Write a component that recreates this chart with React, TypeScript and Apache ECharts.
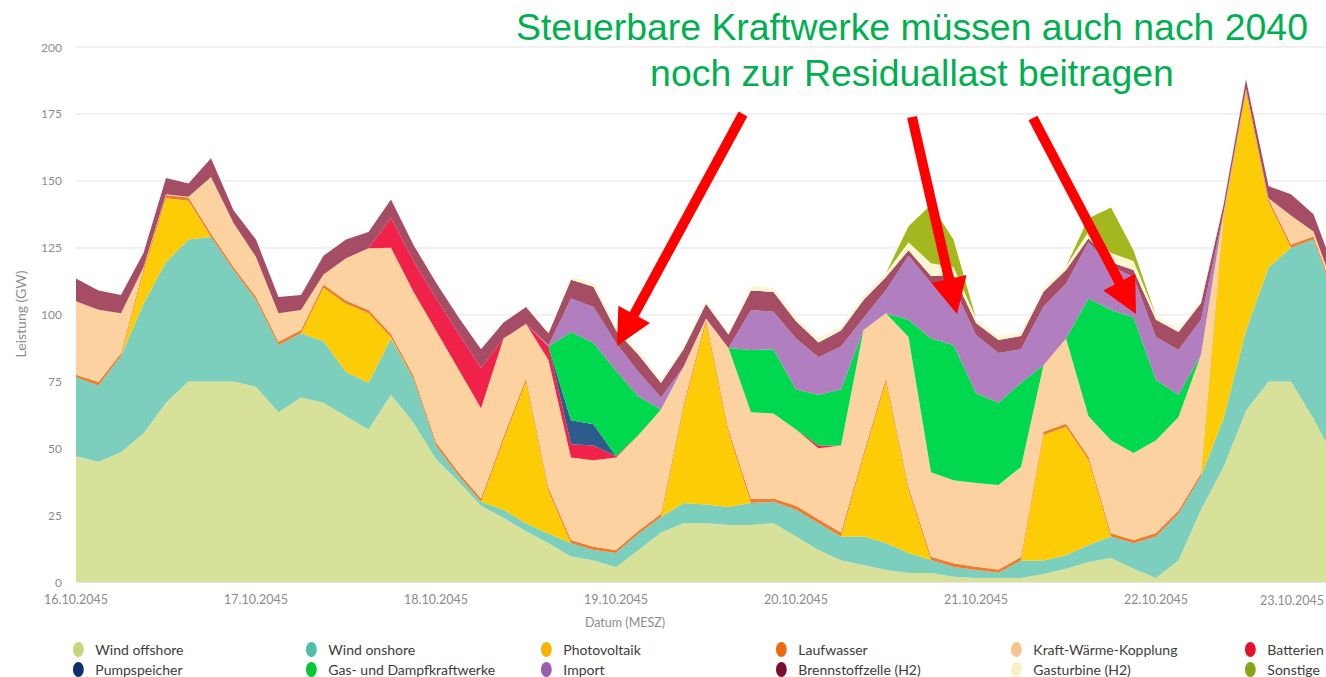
import React, { useEffect, useRef } from "react";
import * as echarts from "echarts";

const dayLabels = ["16.10.2045", "17.10.2045", "18.10.2045", "19.10.2045", "20.10.2045", "21.10.2045", "22.10.2045", "23.10.2045"];
const hourLabels = ["00:00", "03:00", "06:00", "09:00", "12:00", "15:00", "18:00", "21:00"];
const yTicks = ["0", "25", "50", "75", "100", "125", "150", "175", "200"];

// GW, every 3 hours from 16.10.2045 00:00
const windOffshore = [47, 45, 48.5, 55.5, 67, 75, 75, 75, 73, 63.5, 69, 67, 62, 57, 70, 59.5, 46, 37.5, 28.5, 24, 19, 14.5, 9.5, 8, 5.5, 12, 18.5, 22, 22, 21.3, 21.3, 22, 17, 12, 8, 6.4, 4.5, 3.4, 3.4, 2, 1.5, 1.5, 1.5, 3, 5, 7.5, 9, 5, 1.5, 8, 27, 43, 64, 75, 75, 61, 45];
const windOnshore = [29.5, 28.5, 36, 48.5, 52.6, 53, 54, 41.6, 32.4, 25.1, 24, 23, 16.5, 17.5, 21, 16.5, 5, 2.3, 1.5, 3, 3, 3.5, 5, 4, 5.3, 6, 5.8, 7.5, 7, 6.7, 8.2, 8, 10, 10, 9, 10.6, 10.1, 7.4, 4.8, 3.6, 3, 2, 6.5, 5, 5, 6.3, 8, 9.5, 15.5, 17.5, 12.5, 18, 30, 42.5, 50, 67, 60];
const photovoltaik = [0, 0, 0, 12, 23.9, 14.5, 0, 0, 0, 0, 0, 20, 25.5, 26, 0.5, 0, 0, 0, 0, 26, 53, 16, 0, 0, 0, 0, 0, 35.5, 68, 27.7, 0, 0, 0, 0, 0, 29.7, 60.4, 23.6, 0, 0, 0, 0, 0, 47, 48, 31.8, 0, 0, 0, 0, 0, 75, 89, 24.5, 0, 0, 0];
const laufwasser = [1, 1.3, 1, 1.2, 1.2, 1.2, 1.2, 1.2, 1.2, 1.2, 1.2, 1.2, 1.2, 1.2, 1.2, 1.2, 1.2, 1.2, 1.2, 1.2, 1.2, 1.2, 1.2, 1.2, 1.2, 1.2, 1.2, 1.2, 1.2, 1.2, 1.5, 1.2, 1.5, 1.5, 1.5, 1.2, 1.2, 1.2, 1.2, 1.4, 1.2, 1.2, 1.3, 1.2, 1.2, 1.2, 1.2, 1.2, 1.3, 1.2, 1.2, 1.2, 1.2, 1.2, 1.2, 1.2, 1.2];
const kwk = [27.5, 27, 15, 0.5, 0.3, 0.3, 21.2, 16.4, 14.9, 10.7, 7.5, 3.8, 15.8, 23.1, 32.3, 31.3, 41.8, 38.5, 33.8, 36.8, 20.3, 47.8, 30.8, 32.3, 34.5, 35.8, 39, 14.3, 0.3, 30.6, 32.5, 31.8, 28.5, 26.5, 32.5, 46.3, 24.3, 56, 31.6, 31, 31.3, 31.6, 33.7, 24.8, 31.8, 15.2, 34.8, 32.5, 34.7, 35, 44.3, 0.8, 0.3, 0.3, 10.8, 1.8, 1.8];
const batterien = [0, 0, 0, 0, 0, 0, 0, 0, 0, 0, 0, 0, 0, 0, 11, 11.5, 12, 13.5, 15, 0, 0, 5, 5, 5.5, 0.5, 0, 0, 0, 0, 0, 0, 0, 0, 1, 0, 0, 0, 0, 0, 0, 0, 0, 0, 0, 0, 0, 0, 0, 0, 0, 0, 0, 0, 0, 0, 0, 0];
const pumpspeicher = [0, 0, 0, 0, 0, 0, 0, 0, 0, 0, 0, 0, 0, 0, 0, 0, 0, 0, 0, 0, 0, 0, 9, 8, 0, 0, 0, 0, 0, 0, 0, 0, 0, 0, 0, 0, 0, 0, 0, 0, 0, 0, 0, 0, 0, 0, 0, 0, 0, 0, 0, 0, 0, 0, 0, 0, 0];
const gasUndDampf = [0, 0, 0, 0, 0, 0, 0, 0, 0, 0, 0, 0, 0, 0, 0, 0, 0, 0, 0, 0, 0, 0, 33, 30.3, 32, 14.3, 0, 0, 0, 0, 23.2, 24, 15, 19, 21, 0, 0, 6.4, 50, 50.6, 33.6, 30.7, 31.4, 0, 0, 44, 48.7, 50.8, 22.5, 8.3, 0, 0, 0, 0, 0, 0, 0];
const importData = [0, 0, 0, 0, 0, 0, 0, 0, 0, 0, 0, 0, 0, 0, 0, 0, 0, 0, 0, 0, 0, 0.5, 12.5, 13.5, 10.3, 9.2, 4.5, 0, 0, 0, 15, 14, 19, 14, 16, 4.5, 8.7, 24, 20.8, 21.8, 21.7, 18.6, 12.6, 22, 20.5, 21, 16.3, 15, 16.1, 16.7, 13, 0, 0, 0, 0, 0, 0];
const brennstoffzelle = [8.5, 7.2, 6.8, 5.3, 6, 5, 7, 4.8, 6.5, 6, 5.6, 7, 7, 6, 7, 6, 6, 6, 7, 6, 6.3, 4.5, 7, 7.6, 4.7, 6.5, 5.4, 6.5, 5.5, 5, 7.3, 7.4, 6.5, 5.5, 6, 6.7, 4.8, 2, 2.6, 4.4, 4.5, 4.9, 5, 5.5, 5.1, 1.5, 1.5, 2.6, 6.4, 6.8, 6.3, 3, 3.5, 4.5, 8, 6.5, 7];
const gasturbine = [0, 0, 0, 0, 0, 0, 0, 0, 0, 0, 0, 0, 0, 0, 0, 0, 0, 0, 0, 0, 0, 0.5, 1, 1.6, 1.5, 1.5, 1.1, 1, 1, 1, 1.5, 1.6, 1.5, 1.5, 1.5, 1.6, 1.5, 3, 4.8, 3, 1.7, 1.5, 1.5, 1.5, 1.4, 2.5, 3.5, 3.4, 1.5, 1.5, 0.7, 0.5, 0.5, 0, 0, 0, 0];
const sonstige = [0, 0, 0, 0, 0, 0, 0, 0, 0, 0, 0, 0, 0, 0, 0, 0, 0, 0, 0, 0, 0, 0, 0, 0, 0, 0, 0, 0, 0, 0, 0, 0, 0, 0, 0, 0, 0, 6, 21.8, 10.2, 0, 0, 0, 0, 0, 5, 17, 4, 0, 0, 0, 0, 0, 0, 0, 0, 0];

const seriesNames = ["Wind offshore", "Wind onshore", "Photovoltaik", "Laufwasser", "Kraft-Wärme-Kopplung", "Batterien", "Pumpspeicher", "Gas- und Dampfkraftwerke", "Import", "Brennstoffzelle (H2)", "Gasturbine (H2)", "Sonstige"];
const seriesValues = [windOffshore, windOnshore, photovoltaik, laufwasser, kwk, batterien, pumpspeicher, gasUndDampf, importData, brennstoffzelle, gasturbine, sonstige];
const areaColors = ["#d8e19a", "#7dcfbd", "#fccc06", "#ee7d2e", "#fcd2a0", "#f02249", "#2d5c8c", "#00d84d", "#b17ec0", "#a44d65", "#fdf6d2", "#a2b81e"];
const legendColors = ["#c6d67a", "#4fbfa8", "#f8b400", "#ec6a12", "#f8c48e", "#e5102d", "#0c306b", "#00c933", "#9a5bb0", "#7a0e2e", "#fbf0c2", "#84a41a"];

const legendLeft = [68, 301, 536, 771, 1006, 1240];
const legendTop = [637, 657];

const categories: string[] = [];
for (let d = 0; d < dayLabels.length - 1; d++) {
  for (const h of hourLabels) categories.push(dayLabels[d] + " " + h);
}
categories.push(dayLabels[dayLabels.length - 1] + " 00:00");

const ellipseIcon = "path://M5,0 C7.76,0 10,3.13 10,7 C10,10.87 7.76,14 5,14 C2.24,14 0,10.87 0,7 C0,3.13 2.24,0 5,0 Z";

function arrow(x1: number, y1: number, tx: number, ty: number) {
  const dx = tx - x1, dy = ty - y1;
  const len = Math.sqrt(dx * dx + dy * dy);
  const ux = dx / len, uy = dy / len;
  const nx = -uy, ny = ux;
  const hl = 36, hw = 18;
  const bx = tx - ux * hl, by = ty - uy * hl;
  return [
    { type: "line", z: 100, shape: { x1, y1, x2: bx + ux * 2, y2: by + uy * 2 }, style: { stroke: "#ff0000", lineWidth: 10 } },
    { type: "polygon", z: 100, shape: { points: [[tx, ty], [bx + nx * hw, by + ny * hw], [bx - nx * hw, by - ny * hw]] }, style: { fill: "#ff0000" } },
  ];
}

export default function App() {
  const ref = useRef<HTMLDivElement>(null);
  useEffect(() => {
    if (!ref.current) return;
    const chart = echarts.init(ref.current, undefined, { renderer: "svg" });
    const font = "Lato, 'Open Sans', sans-serif";
    const option: any = {
      animation: false,
      grid: { left: 76, right: 64, top: 47, bottom: 95 },
      xAxis: {
        type: "category",
        data: categories,
        boundaryGap: false,
        axisTick: { show: false },
        axisLine: { lineStyle: { color: "#e4e4e4" } },
        axisLabel: {
          interval: 7,
          showMaxLabel: false,
          formatter: (v: string) => v.split(" ")[0],
          color: "#8c8c8c",
          fontSize: 12.5,
          fontFamily: font,
          margin: 11,
        },
        splitLine: { show: false },
      },
      yAxis: {
        type: "value",
        min: 0,
        max: 200,
        interval: 25,
        axisLine: { show: false },
        axisTick: { show: false },
        axisLabel: {
          color: "#8c8c8c",
          fontSize: 12,
          fontFamily: font,
          margin: 14,
          formatter: (v: number) => yTicks[Math.round(v / 25)],
        },
        splitLine: { lineStyle: { color: "#ececec", width: 1.5 } },
      },
      legend: seriesNames.map((n, i) => ({
        data: [{ name: n, itemStyle: { color: legendColors[i] } }],
        left: legendLeft[i % 6],
        top: legendTop[Math.floor(i / 6)],
        icon: ellipseIcon,
        itemWidth: 24,
        itemHeight: 15,
        selectedMode: false,
        textStyle: { color: "#3c3c3c", fontSize: 14, fontFamily: font },
      })),
      series: seriesNames.map((n, i) => ({
        name: n,
        type: "line",
        stack: "total",
        data: seriesValues[i],
        symbol: "none",
        showSymbol: false,
        silent: true,
        lineStyle: { width: 0 },
        itemStyle: { color: legendColors[i] },
        areaStyle: { color: areaColors[i], opacity: 1 },
        emphasis: { disabled: true },
      })),
      graphic: [
        {
          type: "text", z: 100, x: 20, y: 314, rotation: Math.PI / 2,
          style: { text: "Leistung (GW)", fill: "#8c8c8c", fontSize: 14, fontFamily: font, align: "center", verticalAlign: "middle" },
        },
        {
          type: "text", z: 100, x: 625, y: 622,
          style: { text: "Datum (MESZ)", fill: "#8c8c8c", fontSize: 12.5, fontFamily: font, align: "center", verticalAlign: "middle" },
        },
        {
          type: "text", z: 100, x: 1324, y: 600,
          style: { text: dayLabels[dayLabels.length - 1], fill: "#8c8c8c", fontSize: 12.5, fontFamily: font, align: "right", verticalAlign: "middle" },
        },
        {
          type: "text", z: 101, x: 912, y: 27,
          style: { text: "Steuerbare Kraftwerke müssen auch nach 2040", fill: "#00b050", fontSize: 37.4, fontFamily: "'Liberation Sans', Arial, sans-serif", align: "center", verticalAlign: "middle" },
        },
        {
          type: "text", z: 101, x: 912, y: 73,
          style: { text: "noch zur Residuallast beitragen", fill: "#00b050", fontSize: 37.4, fontFamily: "'Liberation Sans', Arial, sans-serif", align: "center", verticalAlign: "middle" },
        },
        ...arrow(743, 114, 617, 346),
        ...arrow(912, 117, 957, 314),
        ...arrow(1033, 118, 1136, 314),
      ],
    };
    chart.setOption(option);
    return () => chart.dispose();
  }, []);
  return (
    <div style={{ position: "fixed", left: 0, top: 0, width: 1326, height: 677, overflow: "hidden", background: "#ffffff" }}>
      <div ref={ref} style={{ width: 1400, height: 677 }} />
    </div>
  );
}
